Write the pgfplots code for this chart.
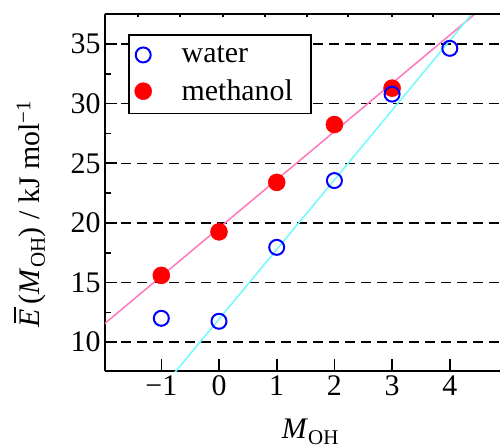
\documentclass[border=0pt]{standalone}
\usepackage{pgfplots}
\pgfplotsset{compat=1.18}
\usepackage{fontspec}
\setmainfont{Liberation Serif}
\definecolor{pinkline}{RGB}{255,125,190}
\definecolor{cyanline}{RGB}{120,250,250}
\newcommand{\Ebar}{\rlap{\hspace{0.14em}\raisebox{0.8em}{\rule{0.55em}{0.05em}}}\textit{E}}
\begin{document}
\begin{tikzpicture}
\begin{axis}[
  name=ax,
  scale only axis, width=395bp, height=357bp,
  xmin=-1.976, xmax=4.87, ymin=7.58, ymax=37.52,
  axis x line*=box, axis y line*=left,
  axis line style={line width=1.6pt,-},
  every tick/.style={line width=1.6pt, black},
  tick align=inside,
  xtick={-1,0,1,2,3,4}, xticklabels={−1,0,1,2,3,4},
  xtick pos=bottom,
  ytick={10,15,20,25,30,35}, ytick pos=left,
  minor y tick num=1,
  major tick length=12bp, minor tick length=6bp,
  ymajorgrids,
  grid style={black, line width=1.5pt, dash pattern=on 10bp off 6bp},
  font=\fontsize{30}{35}\selectfont,
  /pgf/number format/assume math mode=true,
  xticklabel style={yshift=-1bp},
  yticklabel style={xshift=-1bp},
  xlabel={\textit{M}\textsubscript{OH}},
  ylabel={\Ebar\,(\textit{M}\textsubscript{OH}) / kJ mol\textsuperscript{−1}},
  xlabel style={at={(axis description cs:0.52,-0.125)}, anchor=north},
  ylabel style={at={(axis description cs:-0.19,0.44)}, anchor=center},
  legend style={at={(axis description cs:0.058,0.944)}, anchor=north west,
    draw=black, line width=1.6pt, inner xsep=6bp, inner ysep=9bp,
    row sep=12bp, column sep=28bp, font=\fontsize{30}{35}\selectfont},
  legend cell align=left,
  reverse legend,
]
\addplot[pinkline, line width=1.6pt, forget plot] coordinates {(-2.5,9.46) (5,39.80)};
\addplot[cyanline, line width=1.6pt, forget plot] coordinates {(-1,6.09) (5,41.13)};
\addplot[only marks, mark=*, mark size=8.5bp, red, mark options={fill=red, draw=red, line width=0.5pt}]
  coordinates {(-1,15.6) (0,19.25) (1,23.4) (2,28.25) (3,31.3)};
\addlegendentry{methanol\hspace*{10bp}}
\addplot[only marks, mark=o, mark size=7.5bp, blue, mark options={line width=2pt}]
  coordinates {(-1,12.0) (0,11.75) (1,17.95) (2,23.55) (3,30.8) (4,34.64)};
\addlegendentry{water}
\end{axis}
\begin{axis}[
  at={(ax.south west)}, anchor=south west,
  scale only axis, width=395bp, height=357bp,
  xmin=0, xmax=395, ymin=0, ymax=1,
  axis x line*=top, axis y line=none,
  axis line style={line width=1.6pt,-},
  every tick/.style={line width=1.2pt, black},
  tick align=inside, major tick length=3bp,
  xtick={33,75,118,160,202,243,287,328}, xticklabels={},
  ytick=\empty,
]
\end{axis}
\pgfresetboundingbox
\path[use as bounding box] ([shift={(-105bp,-75bp)}]ax.south west) rectangle ([shift={(0bp,14bp)}]ax.north east);
\end{tikzpicture}
\end{document}
